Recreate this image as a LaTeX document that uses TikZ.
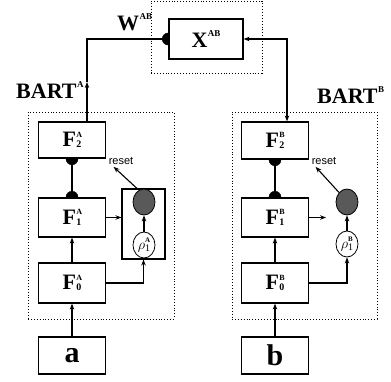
\documentclass[tikz,border=0pt]{standalone}
\usepackage{fontspec}
\setmainfont{Liberation Serif}
\newfontfamily\resetfont{Liberation Sans}
\usetikzlibrary{arrows.meta,positioning,shapes.geometric}

% layer label: letter, network superscript, index subscript
\newcommand{\lyr}[3]{#1\kern.5pt\rlap{\raisebox{9.5pt}{\fontsize{8}{8}\selectfont\bfseries #2}}\raisebox{-1pt}{\fontsize{10}{10}\selectfont\bfseries #3}}
\newcommand{\sups}[2]{#1\kern.5pt\raisebox{11pt}{\fontsize{9}{9}\selectfont\bfseries #2}}

\tikzset{
    >={Stealth[length=6pt,width=4.5pt]},
    layerbox/.style={draw,line width=1.2pt,minimum width=67,minimum height=38,inner sep=0pt,font=\fontsize{22}{26}\selectfont\bfseries},
    inputbox/.style={layerbox,minimum height=37,font=\fontsize{30}{34}\selectfont\bfseries},
    groupbox/.style={draw,dotted,line width=0.9pt,inner sep=0pt},
    wire/.style={line width=1.1pt},
    synapse/.style={semicircle,fill,draw,inner sep=0pt,minimum width=12,minimum height=6,anchor=chord center},
    vigil/.style={ellipse,draw,line width=0.8pt,fill=black!65,minimum width=22,minimum height=26,inner sep=0pt},
    rhonode/.style={ellipse,draw,line width=0.8pt,minimum width=22,minimum height=26,inner sep=0pt,font=\fontsize{14}{16}\selectfont},
    resettext/.style={font=\resetfont\fontsize{11}{12}\selectfont,inner sep=0pt},
    bigtitle/.style={font=\fontsize{22}{26}\selectfont\bfseries,inner sep=0pt,anchor=base west}
}

\begin{document}
\begin{tikzpicture}[x=1pt,y=-1pt]
    \useasboundingbox (0,0) rectangle (391,381);

    % ARTMAP map field
    \node[groupbox,minimum width=111,minimum height=72] (mapgroup) at (206.5,37) {};
    \node[layerbox,minimum width=74,minimum height=40] (X) at (206,39) {\sups{X}{AB}};
    \node[bigtitle] (W) at (117,30) {\sups{W}{AB}};

    % BART A
    \node[groupbox,minimum width=146,minimum height=207] (groupA) at (101,215.5) {};
    \node[bigtitle] (bartA) at (16,98) {\sups{BART}{A}};
    \node[layerbox,minimum height=36] (F2a) at (72,140) {\lyr{F}{A}{2}};
    \node[layerbox,minimum height=39] (F1a) at (72,217.5) {\lyr{F}{A}{1}};
    \node[layerbox,minimum height=40] (F0a) at (72,283) {\lyr{F}{A}{0}};
    \node[inputbox] (a) at (72,355.5) {a};
    \node[draw,line width=1.1pt,minimum width=43,minimum height=70,inner sep=0pt] (rhoboxA) at (143.5,224) {};
    \node[vigil] (vigA) at (144,202) {};
    \node[rhonode] (rhoA) at (144,245) {$\rho$\rlap{\raisebox{7pt}{\fontsize{7}{7}\selectfont\bfseries A}}\raisebox{-2.5pt}{\fontsize{10}{10}\selectfont 1}};
    \node[resettext] (rstA) at (121,161) {reset};

    % BART B
    \node[groupbox,minimum width=145,minimum height=207] (groupB) at (304.5,215.5) {};
    \node[bigtitle] (bartB) at (317,103) {\sups{BART}{B}};
    \node[layerbox,minimum height=37] (F2b) at (275,140.5) {\lyr{F}{B}{2}};
    \node[layerbox,minimum height=39] (F1b) at (275,217.5) {\lyr{F}{B}{1}};
    \node[layerbox,minimum height=40] (F0b) at (275,283) {\lyr{F}{B}{0}};
    \node[inputbox] (b) at (275,355.5) {b};
    \node[vigil] (vigB) at (347,202) {};
    \node[rhonode] (rhoB) at (347,244) {$\rho$\rlap{\raisebox{7pt}{\fontsize{7}{7}\selectfont\bfseries B}}\raisebox{-2.5pt}{\fontsize{10}{10}\selectfont 1}};
    \node[resettext] (rstB) at (324,161) {reset};
    \coordinate (outB) at (326,217.5);

    % map field links
    \coordinate (tipA) at (87,82);
    \draw[wire,->] (F2a.north -| tipA) -- (tipA);
    \draw[wire] (tipA) |- (X.west);
    \node[synapse,shape border rotate=90] at (X.west) {};
    \draw[wire,<->] (X.east) -| ([xshift=12]F2b.north);

    % inside BART A
    \draw[wire] (F2a) -- (F1a);
    \node[synapse,shape border rotate=180] at (F2a.south) {};
    \node[synapse] at (F1a.north) {};
    \draw[wire,->] (F0a) -- (F1a);
    \draw[wire,->] (a) -- (F0a);
    \draw[wire,->] (F1a.east) -- (F1a.east -| rhoboxA.west);
    \draw[wire,->] (F0a.east) -| (rhoboxA.south);
    \draw[wire,->] (rhoA) -- (vigA);
    \draw[wire,->] ([xshift=-6.5]rhoboxA.north) -- ([xshift=5,yshift=-2]rstA.south west);

    % inside BART B
    \draw[wire] (F2b) -- (F1b);
    \node[synapse,shape border rotate=180] at (F2b.south) {};
    \node[synapse] at (F1b.north) {};
    \draw[wire,->] (F0b) -- (F1b);
    \draw[wire,->] (b) -- (F0b);
    \draw[wire,->] (F1b.east) -- (outB);
    \draw[wire,->] (F0b.east) -| (rhoB.south);
    \draw[wire,->] (rhoB) -- (vigB);
    \draw[wire,->] (vigB.130) -- ([xshift=4,yshift=-2]rstB.south west);
\end{tikzpicture}
\end{document}
